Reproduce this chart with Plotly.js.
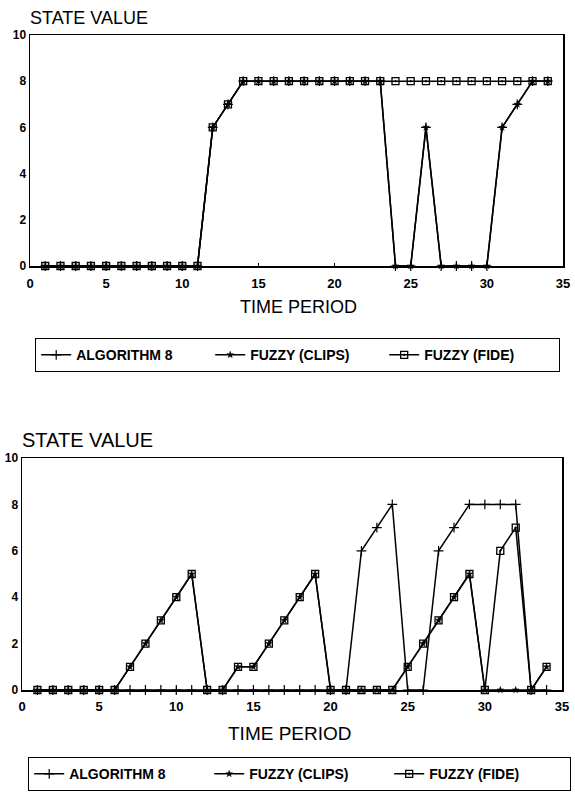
<!DOCTYPE html>
<html>
<head>
<meta charset="utf-8">
<script src="https://cdn.plot.ly/plotly-3.0.1.min.js"></script>
<style>html,body{margin:0;padding:0;background:#fff;}#chart{width:575px;height:798px;}</style>
</head>
<body>
<div id="chart"></div>
<script>
// ---- data ----
const periods = [1,2,3,4,5,6,7,8,9,10,11,12,13,14,15,16,17,18,19,20,21,22,23,24,25,26,27,28,29,30,31,32,33,34];

// top chart
const topAlg8  = [0,0,0,0,0,0,0,0,0,0,0,6,7,8,8,8,8,8,8,8,8,8,8,0,0,6,0,0,0,0,6,7,8,8];
const topClips = [0,0,0,0,0,0,0,0,0,0,0,6,7,8,8,8,8,8,8,8,8,8,8,0,0,6,0,0,0,0,6,7,8,8];
const topFide  = [0,0,0,0,0,0,0,0,0,0,0,6,7,8,8,8,8,8,8,8,8,8,8,8,8,8,8,8,8,8,8,8,8,8];

// bottom chart
const botAlg8  = [0,0,0,0,0,0,0,0,0,0,0,0,0,0,0,0,0,0,0,0,0,6,7,8,0,0,6,7,8,8,8,8,0,0];
const botClips = [0,0,0,0,0,0,1,2,3,4,5,0,0,1,1,2,3,4,5,0,0,0,0,0,1,2,3,4,5,0,0,0,0,1];
const botFide  = [0,0,0,0,0,0,1,2,3,4,5,0,0,1,1,2,3,4,5,0,0,0,0,0,1,2,3,4,5,0,6,7,0,1];

const seriesNames = ['ALGORITHM 8', 'FUZZY (CLIPS)', 'FUZZY (FIDE)'];
const xTicks = [0,5,10,15,20,25,30,35];
const yTicks = [0,2,4,6,8,10];

// ---- styles ----
const FONT = 'Liberation Sans, Arial, sans-serif';
const styles = [
  {symbol: 'cross-thin-open', size: 7, line: {width: 1.2, color: '#000'}, color: '#000'},
  {symbol: 'star', size: 5, line: {width: 0.5, color: '#000'}, color: '#000'},
  {symbol: 'square-open-dot', size: 7, line: {width: 1.3, color: '#000'}, color: '#000'}
];

function mk(y, i, xa, ya, leg) {
  return {
    x: periods, y: y, type: 'scatter', mode: 'lines+markers',
    name: seriesNames[i], xaxis: xa, yaxis: ya, legend: leg, showlegend: true,
    line: {color: '#000', width: 1.5},
    marker: styles[i], cliponaxis: false
  };
}

const traces = [
  mk(topAlg8, 0, 'x', 'y', 'legend'),
  mk(topClips, 1, 'x', 'y', 'legend'),
  mk(topFide, 2, 'x', 'y', 'legend'),
  mk(botAlg8, 0, 'x2', 'y2', 'legend2'),
  mk(botClips, 1, 'x2', 'y2', 'legend2'),
  mk(botFide, 2, 'x2', 'y2', 'legend2')
];

const W = 575, H = 798;
const px = v => v / W;
const py = v => 1 - v / H;

function xax(d, anchor, so) {
  return {domain: d, anchor: anchor, range: [0, 35], tickvals: xTicks, ticktext: xTicks.map(String),
    showline: true, mirror: true, linecolor: '#000', linewidth: 1.5, showgrid: false, zeroline: false,
    ticks: 'inside', ticklen: 3, tickcolor: '#000', ticklabelstandoff: so,
    tickfont: {family: FONT, size: 13, color: '#000', weight: 'bold'}};
}
function yax(d, anchor) {
  return {domain: d, anchor: anchor, range: [0, 10], tickvals: yTicks, ticktext: yTicks.map(String),
    showline: true, mirror: true, linecolor: '#000', linewidth: 1.5, showgrid: false, zeroline: false,
    ticks: '', tickfont: {family: FONT, size: 12, color: '#000', weight: 'bold'}};
}
function leg(x, y, ew) {
  return {x: x, y: y, xanchor: 'left', yanchor: 'top', orientation: 'h',
    bordercolor: '#000', borderwidth: 1.2, bgcolor: '#fff', entrywidth: ew, itemwidth: 30,
    font: {family: FONT, size: 14, color: '#000', weight: 'bold'}, traceorder: 'normal'};
}

const layout = {
  width: W, height: H, margin: {l: 0, r: 0, t: 0, b: 0},
  paper_bgcolor: '#fff', plot_bgcolor: '#fff', showlegend: true,
  xaxis: xax([px(30), px(563)], 'y', 5),
  yaxis: yax([py(266), py(35)], 'x'),
  xaxis2: xax([px(22), px(562)], 'y2', 4),
  yaxis2: yax([py(690), py(458)], 'x2'),
  legend: leg(px(35), py(338), 129),
  legend2: leg(px(28), py(757), 135),
  annotations: [
    {text: 'STATE VALUE', x: px(28), y: py(18), xref: 'paper', yref: 'paper', xanchor: 'left', yanchor: 'middle', showarrow: false, font: {family: FONT, size: 18, color: '#000'}},
    {text: 'TIME PERIOD', x: px(298), y: py(307), xref: 'paper', yref: 'paper', xanchor: 'center', yanchor: 'middle', showarrow: false, font: {family: FONT, size: 18, color: '#000'}},
    {text: 'STATE VALUE', x: px(20), y: py(440), xref: 'paper', yref: 'paper', xanchor: 'left', yanchor: 'middle', showarrow: false, font: {family: FONT, size: 20, color: '#000'}},
    {text: 'TIME PERIOD', x: px(290), y: py(733), xref: 'paper', yref: 'paper', xanchor: 'center', yanchor: 'middle', showarrow: false, font: {family: FONT, size: 19, color: '#000'}}
  ]
};

Plotly.newPlot('chart', traces, layout, {staticPlot: true, displayModeBar: false});
</script>
</body>
</html>
